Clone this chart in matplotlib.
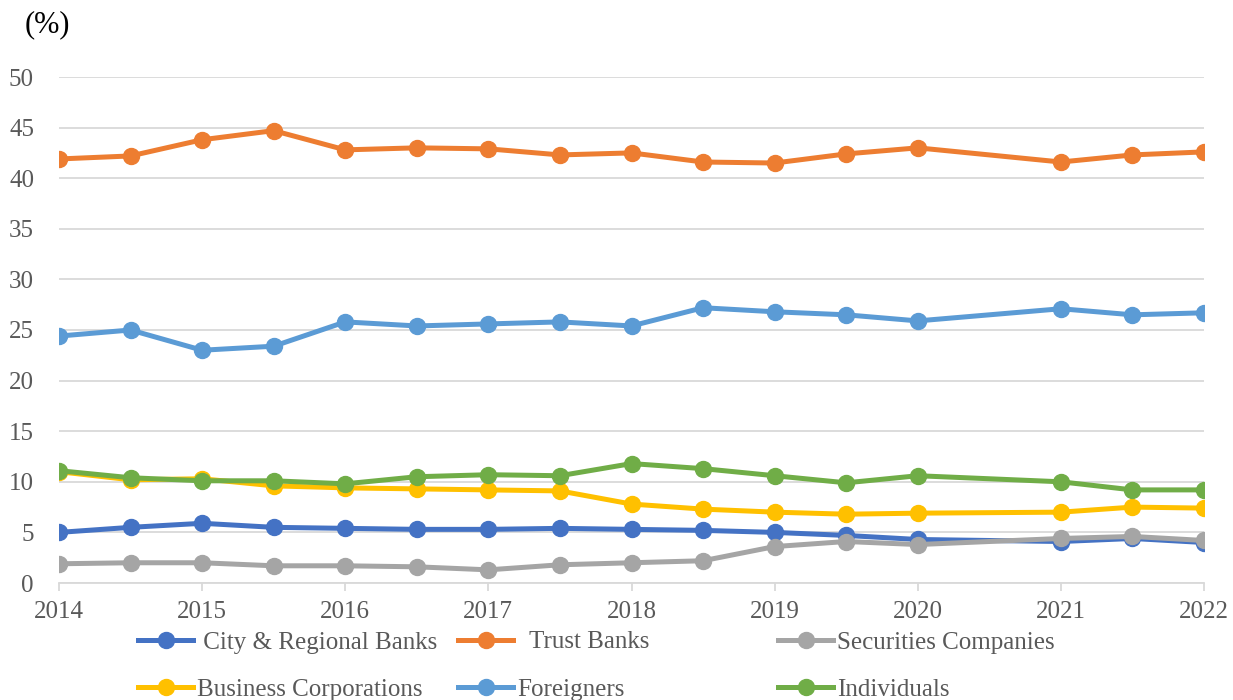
import matplotlib.pyplot as plt
from matplotlib.lines import Line2D

# half-year observations; 2020 -> 2021 has no midpoint
years = [2014, 2014.5, 2015, 2015.5, 2016, 2016.5, 2017, 2017.5, 2018,
         2018.5, 2019, 2019.5, 2020, 2021, 2021.5, 2022]

city_regional = [5.0, 5.5, 5.9, 5.5, 5.4, 5.3, 5.3, 5.4, 5.3,
                 5.2, 5.0, 4.7, 4.3, 4.1, 4.4, 4.0]
trust_banks = [41.9, 42.2, 43.8, 44.7, 42.8, 43.0, 42.9, 42.3, 42.5,
               41.6, 41.5, 42.4, 43.0, 41.6, 42.3, 42.6]
securities = [1.9, 2.0, 2.0, 1.7, 1.7, 1.6, 1.3, 1.8, 2.0,
              2.2, 3.6, 4.1, 3.8, 4.4, 4.6, 4.2]
business = [11.0, 10.2, 10.3, 9.6, 9.4, 9.3, 9.2, 9.1, 7.8,
            7.3, 7.0, 6.8, 6.9, 7.0, 7.5, 7.4]
foreigners = [24.4, 25.0, 23.0, 23.4, 25.8, 25.4, 25.6, 25.8, 25.4,
              27.2, 26.8, 26.5, 25.9, 27.1, 26.5, 26.7]
individuals = [11.1, 10.4, 10.1, 10.1, 9.8, 10.5, 10.7, 10.6, 11.8,
               11.3, 10.6, 9.9, 10.6, 10.0, 9.2, 9.2]

series = [
    (" City & Regional Banks", city_regional, "#4472C4"),
    ("  Trust Banks", trust_banks, "#ED7D31"),
    ("Securities Companies", securities, "#A5A5A5"),
    ("Business Corporations", business, "#FFC000"),
    ("Foreigners", foreigners, "#5B9BD5"),
    ("Individuals", individuals, "#70AD47"),
]

year_ticks = list(range(2014, 2023))
y_ticks = list(range(0, 51, 5))

plt.rcParams["font.family"] = ["Liberation Serif", "DejaVu Serif"]

fig = plt.figure(figsize=(12.33, 7.0), dpi=100)
ax = fig.add_axes([59 / 1233, 1 - 583 / 700, (1204 - 59) / 1233, (583 - 77) / 700])

LW = 3.6
MS = 11.5
for name, vals, col in series:
    ax.plot(years, vals, color=col, lw=LW, marker="o", ms=MS,
            solid_joinstyle="round", label=name, zorder=3)

ax.set_xlim(2014, 2022)
ax.set_ylim(0, 50)
ax.set_xticks(year_ticks)
ax.set_xticklabels([str(y) for y in year_ticks])
ax.set_yticks(y_ticks)
ax.grid(axis="y", color="#D9D9D9", lw=1.3, zorder=0)
ax.set_axisbelow(True)

for s in ["top", "right", "left"]:
    ax.spines[s].set_visible(False)
ax.spines["bottom"].set_color("#D9D9D9")
ax.spines["bottom"].set_linewidth(1.3)
ax.tick_params(axis="x", colors="#D9D9D9", length=6, width=1.3,
               labelcolor="#595959", labelsize=18, pad=7)
ax.tick_params(axis="y", length=0, labelcolor="#595959", labelsize=18, pad=18)

fig.text(25 / 1233, 1 - 25 / 700, "(%)", fontsize=22, color="black",
         ha="left", va="center")

# legend: three columns at fixed positions, two rows
col_x = [138, 458, 778]
for c in range(3):
    hs, ls = [], []
    for r in range(2):
        name, _, col = series[r * 3 + c]
        hs.append(Line2D([], [], color=col, lw=LW, marker="o", ms=MS))
        ls.append(name)
    fig.legend(hs, ls, loc="upper left",
               bbox_to_anchor=(col_x[c] / 1233, 1 - 631 / 700),
               frameon=False, fontsize=18, labelcolor="#595959",
               handlelength=2.2, handletextpad=0.15, labelspacing=1.0,
               borderaxespad=0, borderpad=0)

fig.savefig("out.png", dpi=100)
